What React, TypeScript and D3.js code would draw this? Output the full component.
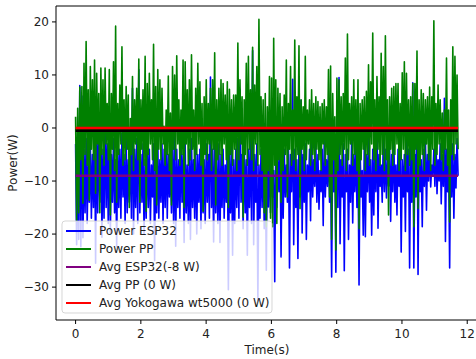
import React from "react";
import * as d3 from "d3";

const T_END = 11.72;

// Power PP: alternating peaks (hi) and troughs (lo), read left to right
const greenHi = [
  2.1, 3.7, 7.7, 7.8, 12.2, 16.3, 7.2, 11.6, 9.1, 12.8,
  10.3, 6.5, 11.3, 9.1, 11.3, 4.6, 11.0, 6.5, 12.5, 19.2,
  4.6, 8.1, 15.3, 5.3, 7.8, 6.2, 1.8, 9.7, 5.3, 7.5,
  13.0, 5.3, 7.2, 13.5, 8.4, 10.3, 5.3, 15.8, 7.8, 11.0,
  9.1, 7.5, 0.3, 3.4, 9.8, 2.8, 11.6, 10.0, 13.6, 5.3,
  3.4, 12.8, 12.5, 7.2, 9.1, 13.8, 3.4, 7.5, 12.2, 8.7,
  4.6, 5.9, 9.1, 4.6, 7.5, 9.1, 14.2, 5.3, 7.5, 9.1,
  8.4, 6.2, 8.7, 7.3, 5.3, 6.2, 6.2, 16.0, 9.1, 5.9,
  5.3, 12.2, 13.5, 7.2, 15.2, 8.1, 11.6, 20.5, 5.9, 5.3,
  6.5, 4.0, 9.7,
  9.4, 16.9, 9.1, 7.5, 6.5, 4.0, 6.2, 12.8, 4.6, 11.6,
  3.4, 16.6, 5.9, 15.5, 5.3, 4.0, 13.5, 3.4, 5.3, 7.2,
  4.6, 5.9, 5.0, 4.0, 4.6, 5.3, 4.0, 11.0, 11.7, 6.5,
  2.1, 9.4, 9.1, 5.9, 6.5, 13.2, 17.7, 4.6, 5.9, 9.1,
  5.3, 9.1, 4.6, 5.3, 5.9, 6.9, 11.9, 8.7, 17.9, 5.3,
  9.7, 5.9, 14.1, 11.6, 17.4, 5.3, 5.9, 7.5, 7.8, 8.4,
  8.4, 4.6, 10.4, 12.5, 10.3, 5.3, 5.9, 8.4, 8.4, 14.5,
  5.3, 7.2, 6.5, 5.3, 5.9, 7.7, 5.9, 20.2, 4.6, 8.1,
  5.3, 2.8, 3.4, 13.2, 3.4, 5.3, 15.3, 13.5, 10.0,
];
const greenLo = [
  -17.4, -16, -6, -14.2, -5, -7, -13.6, -4, -6, -12.3,
  -3, -16, -5, -7, -3, -6, -16.4, -4, -8, -14,
  -5, -3, -7, -6, -4, -15, -5, -8, -3, -6,
  -14, -4, -7, -15.7, -5, -3, -6, -8, -14.5, -4,
  -6, -3, -7, -5, -8, -14.5, -4, -6, -3, -7,
  -5, -15, -3, -7, -6, -4, -8, -5, -3, -7,
  -15.7, -5, -6, -3, -8, -4, -14.5, -6, -5, -7,
  -3, -6, -15, -5, -7, -4, -8, -6, -3, -16.8,
  -5, -7, -4, -6, -8, -3, -7, -5, -8, -16,
  -18.6, -8, -17, -18.6, -7, -18, -6, -14, -8, -5,
  -13, -4, -7, -6, -8, -5, -15.2, -4, -8, -6,
  -3, -7, -5, -8, -4, -6, -8, -3, -7, -5,
  -13, -21, -6, -23, -8, -5, -7, -4, -8, -6,
  -3, -7, -5, -8, -19, -6, -4, -8, -5, -7,
  -3, -6, -8, -4, -7, -5, -8, -6, -16.4, -4,
  -7, -5, -3, -8, -6, -4, -8, -5, -7, -6,
  -18.6, -4, -15.2, -7, -5, -8, -3, -6, -8, -4,
  -7, -5, -3, -6, -8, -4, -7, -17.7, -5, -6,
  -3, -4,
];

// Power ESP32: alternating peaks (hi) and troughs (lo)
const blueHi = [
  -3, -5, 8, 6, -4, -2, -6, -3, -5, 3,
  4, -2, 2, -4, 3, -3, 2, -5, -2, -6,
  -3, -4, -1, -5, -2, -6, -3, 7.5, -4, -2,
  11, -5, -3, -6, -2, -4, -7, -3, -5, -2,
  -6, -3, -4, -2, -5, -7, -3, -1.5, -4, -6,
  -2, -5, -3, -7, -4, -2, -6, -3, -5, -4,
  -2, -6, -3, -5, 9.6, -4, -2, -6, -3, -5,
  -4, -7, -2, -5, -3, -6, -4, -2, 7.3, -5,
  -3, -6, -4, -2, 14.6, -5, -3, -7, -4, -2,
  -6, -3, -5, -4, -8, -2, -6, -3, -5, -4,
  -7, -3, -5, 9.2, -4, -6, -2, 5.2, -5, -3,
  -7, -4, -2, -6, -3, -5, -8, -4, -2, -6,
  -3, -7, -4, -5, -2, 9.5, -6, -3, -5, -4,
  -7, -2, -5, -3, -6, -4, -8, -3, -5, -2,
  -6, -4, -3, 4, -5, -7, -2, -4, -6, -3,
  -5, -2, -7, -4, -3, -6, -5, -2, -4, -3,
  8.5, -5, 9.7, -3, -6, -4, -2, -5, -3, -7,
  -4, -2, -6, -3, -5, 5.6, -4, -6, -2, -3,
  -5, -2,
];
const blueLo = [
  -22, -21, -22.4, -20.7, -16, -18, -14, -17, -15, -25.5,
  -16, -14, -20.6, -17, -15, -18, -20, -14, -16, -22.4,
  -15, -17, -13, -18, -16, -14, -17, -20, -15, -18,
  -16, -14, -20, -17, -15, -18, -13, -25, -16, -17,
  -14, -18, -15, -17, -13, -16, -18, -22.3, -15, -17,
  -14, -21.6, -16, -18, -21, -15, -17, -20, -14, -19,
  -16, -18, -14, -17, -15, -21.5, -16, -18, -21.6, -15,
  -17, -14, -30.5, -16, -24, -18, -15, -17, -14, -19,
  -16, -24, -15, -18, -22, -14, -32.6, -17, -15, -19,
  -26.8, -14.9, -16, -13, -29, -15, -12, -24.3, -17, -13,
  -14, -26.4, -12, -22, -15, -24.6, -13, -19.8, -14, -21,
  -12, -17.5, -13, -11, -14, -15.3, -12, -18.4, -13, -11,
  -14, -28.1, -12, -27.2, -15, -21.8, -13, -26.9, -12, -21,
  -14, -17.9, -12, -15, -29.6, -13, -20.2, -20.5, -12, -14,
  -20.2, -16.4, -12, -18.9, -11, -14, -12, -13.2, -11, -17.6,
  -12, -14, -16.4, -11, -23.4, -13, -19.5, -12, -26.4, -14,
  -26.4, -13, -27.6, -12, -18.6, -11, -15.5, -10, -11.1, -9,
  -11, -12.4, -10, -14.3, -11, -21.4, -12, -26.4, -13, -17,
  -11.3, -9,
];

const avgEsp32 = -9;
const avgPP = -0.5;
const avgYoko = 0;

const xTicks = [0, 2, 4, 6, 8, 10, 12];
const yTicks = [-30, -20, -10, 0, 10, 20];

const legendItems = [
  { label: "Power ESP32", color: "#0000ff" },
  { label: "Power PP", color: "#008000" },
  { label: "Avg ESP32(-8 W)", color: "#800080" },
  { label: "Avg PP (0 W)", color: "#000000" },
  { label: "Avg Yokogawa wt5000 (0 W)", color: "#ff0000" },
];

function interleave(hi: number[], lo: number[]) {
  const n = Math.min(hi.length, lo.length);
  const vals: number[] = [];
  for (let i = 0; i < n; i++) {
    vals.push(hi[i], lo[i]);
  }
  return vals.map((v, k) => ({ t: (k * T_END) / (vals.length - 1), v }));
}

const W = 476;
const H = 359;
const L = 56, R = 478, T = 6, B = 320;

export default function App() {
  const x = d3.scaleLinear().domain([-0.6, 12.33]).range([L, R]);
  const y = d3.scaleLinear().domain([-36.2, 23.0]).range([B, T]);
  const line = d3
    .line<{ t: number; v: number }>()
    .x((d) => x(d.t))
    .y((d) => y(d.v));
  const green = interleave(greenHi, greenLo);
  const blue = interleave(blueHi, blueLo);
  const hline = (v: number) => line([{ t: 0, v }, { t: T_END, v }]) || "";
  const font = "DejaVu Sans, sans-serif";
  const fs = 12;

  return (
    <svg
      width={W}
      height={H}
      style={{ position: "absolute", left: 0, top: 0, background: "#fff" }}
      fontFamily={font}
    >
      <defs>
        <clipPath id="plotclip">
          <rect x={L} y={T} width={W - L} height={B - T} />
        </clipPath>
      </defs>
      <g clipPath="url(#plotclip)">
        <path d={line(blue) || ""} fill="none" stroke="#0000ff" strokeWidth={1.6} strokeLinejoin="round" />
        <path d={line(green) || ""} fill="none" stroke="#008000" strokeWidth={1.6} strokeLinejoin="round" />
        <path d={hline(avgEsp32)} stroke="#800080" strokeWidth={2.6} />
        <path d={hline(avgPP)} stroke="#000000" strokeWidth={2.6} />
        <path d={hline(avgYoko)} stroke="#ff0000" strokeWidth={2.6} />
      </g>
      {/* spines */}
      <line x1={L} x2={L} y1={T} y2={B} stroke="#000" strokeWidth={1} />
      <line x1={L} x2={W} y1={B} y2={B} stroke="#000" strokeWidth={1} />
      <line x1={L} x2={W} y1={T} y2={T} stroke="#000" strokeWidth={1} />
      {/* x ticks */}
      {xTicks.map((t) => (
        <g key={"x" + t}>
          <line x1={x(t)} x2={x(t)} y1={B} y2={B + 4} stroke="#000" />
          <text x={x(t)} y={B + 18} fontSize={fs} textAnchor="middle" fill="#222">
            {String(t)}
          </text>
        </g>
      ))}
      {/* y ticks */}
      {yTicks.map((t) => (
        <g key={"y" + t}>
          <line x1={L - 4} x2={L} y1={y(t)} y2={y(t)} stroke="#000" />
          <text x={L - 7} y={y(t) + 4.3} fontSize={fs} textAnchor="end" fill="#222">
            {t < 0 ? "\u2212" + Math.abs(t) : String(t)}
          </text>
        </g>
      ))}
      <text x={(L + R) / 2} y={354} fontSize={fs} textAnchor="middle" fill="#222">
        Time(s)
      </text>
      <text
        transform={`translate(17, ${(T + B) / 2}) rotate(-90)`}
        fontSize={fs}
        textAnchor="middle"
        fill="#222"
      >
        Power(W)
      </text>
      {/* legend */}
      <g>
        <rect
          x={62}
          y={221}
          width={210}
          height={92}
          rx={3}
          fill="#fff"
          fillOpacity={0.8}
          stroke="#cccccc"
          strokeOpacity={0.8}
        />
        {legendItems.map((it, i) => (
          <g key={it.label}>
            <line x1={66} x2={91} y1={231 + i * 18} y2={231 + i * 18} stroke={it.color} strokeWidth={2} />
            <text x={99} y={231 + i * 18 + 4.3} fontSize={fs} fill="#222">
              {it.label}
            </text>
          </g>
        ))}
      </g>
    </svg>
  );
}
